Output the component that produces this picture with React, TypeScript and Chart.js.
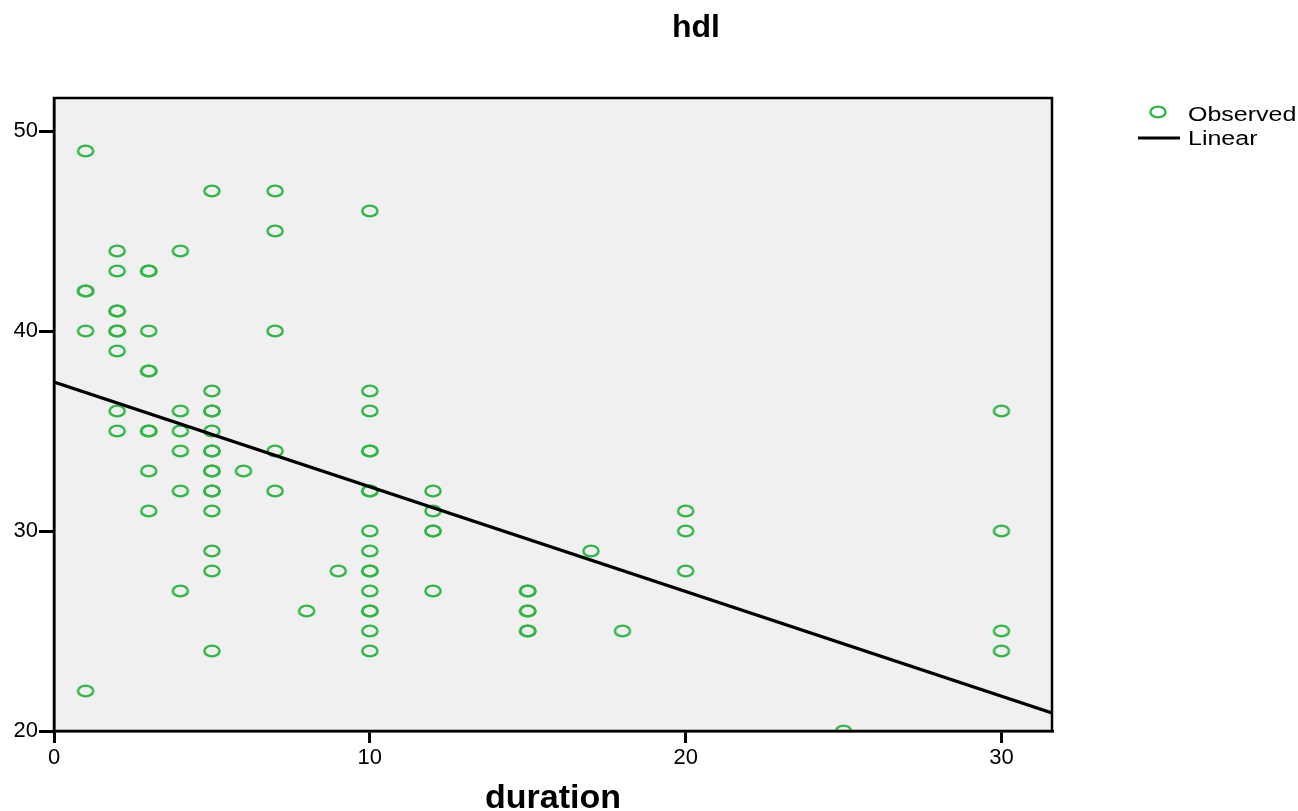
import React, { useEffect, useRef } from "react";
import { Chart, registerables } from "chart.js";

Chart.register(...registerables);

// Observed points (duration, hdl)
const observedX = [
  1, 1, 1, 1, 1,
  2, 2, 2, 2, 2, 2, 2, 2, 2,
  3, 3, 3, 3, 3, 3, 3, 3, 3,
  4, 4, 4, 4, 4, 4,
  5, 5, 5, 5, 5, 5, 5, 5, 5, 5, 5, 5, 5, 5, 5,
  6,
  7, 7, 7, 7, 7,
  8,
  9,
  10, 10, 10, 10, 10, 10, 10, 10, 10, 10, 10, 10, 10, 10, 10, 10,
  12, 12, 12, 12, 12,
  15, 15, 15, 15, 15, 15,
  17,
  18,
  20, 20, 20,
  25,
  30, 30, 30, 30,
];
const observedY = [
  49, 42, 42, 40, 22,
  44, 43, 41, 41, 40, 40, 39, 36, 35,
  43, 43, 40, 38, 38, 35, 35, 33, 31,
  44, 36, 35, 34, 32, 27,
  47, 37, 36, 36, 35, 34, 34, 33, 33, 32, 32, 31, 29, 28, 24,
  33,
  47, 45, 40, 34, 32,
  26,
  28,
  46, 37, 36, 34, 34, 32, 32, 30, 29, 28, 28, 27, 26, 26, 25, 24,
  32, 31, 30, 30, 27,
  27, 27, 26, 26, 25, 25,
  29,
  25,
  31, 30, 28,
  20,
  36, 30, 25, 24,
];

// Linear fit endpoints
const fitX = [0, 31.6];
const fitY = [37.45, 20.9];

const xMin = 0;
const xMax = 31.6;
const yMin = 20;
const yMax = 51.65;
const tickStep = 10;

const chartTitle = "hdl";
const xTitle = "duration";
const legendLabels = ["Observed", "Linear"];

const GREEN = "#2fb543";
const FONT = "'Liberation Sans', Arial, sans-serif";

function makeMarker(): HTMLCanvasElement {
  const c = document.createElement("canvas");
  c.width = 22;
  c.height = 18;
  const ctx = c.getContext("2d")!;
  ctx.strokeStyle = GREEN;
  ctx.lineWidth = 2.4;
  ctx.beginPath();
  ctx.ellipse(11, 9, 7.6, 5.4, 0, 0, Math.PI * 2);
  ctx.stroke();
  return c;
}

export default function App() {
  const ref = useRef<HTMLCanvasElement | null>(null);

  useEffect(() => {
    if (!ref.current) return;
    const marker = makeMarker();

    const decorPlugin = {
      id: "decor",
      beforeDraw(chart: any) {
        const { ctx, chartArea } = chart;
        ctx.save();
        ctx.fillStyle = "#ffffff";
        ctx.fillRect(0, 0, chart.width, chart.height);
        ctx.fillStyle = "#f0f0f0";
        ctx.fillRect(
          chartArea.left,
          chartArea.top,
          chartArea.right - chartArea.left,
          chartArea.bottom - chartArea.top
        );
        ctx.restore();
      },
      afterDraw(chart: any) {
        const { ctx, chartArea } = chart;
        ctx.save();
        ctx.strokeStyle = "#000";
        ctx.lineWidth = 2.5;
        ctx.strokeRect(
          chartArea.left,
          chartArea.top,
          chartArea.right - chartArea.left,
          chartArea.bottom - chartArea.top
        );
        // title
        ctx.fillStyle = "#000";
        ctx.font = "bold 32px " + FONT;
        ctx.textAlign = "center";
        ctx.textBaseline = "alphabetic";
        ctx.fillText(chartTitle, 696, 37);
        // legend
        ctx.drawImage(marker, 1158 - marker.width / 2, 112 - marker.height / 2);
        ctx.strokeStyle = "#000";
        ctx.lineWidth = 3;
        ctx.beginPath();
        ctx.moveTo(1138, 138);
        ctx.lineTo(1180, 138);
        ctx.stroke();
        ctx.font = "20px " + FONT;
        ctx.textAlign = "left";
        ctx.textBaseline = "alphabetic";
        ctx.save();
        ctx.translate(1188, 121);
        ctx.scale(1.25, 1);
        ctx.fillText(legendLabels[0], 0, 0);
        ctx.restore();
        ctx.save();
        ctx.translate(1188, 145);
        ctx.scale(1.25, 1);
        ctx.fillText(legendLabels[1], 0, 0);
        ctx.restore();
        ctx.restore();
      },
    };

    const chart = new Chart(ref.current, {
      type: "scatter",
      data: {
        datasets: [
          {
            type: "line",
            label: legendLabels[1],
            data: fitX.map((x, i) => ({ x, y: fitY[i] })),
            borderColor: "#000",
            borderWidth: 3.2,
            pointRadius: 0,
            fill: false,
            clip: 0,
            order: 0,
          } as any,
          {
            label: legendLabels[0],
            data: observedX.map((x, i) => ({ x, y: observedY[i] })),
            pointStyle: marker,
            pointRadius: 8,
            clip: 0,
            order: 1,
          } as any,
        ],
      },
      plugins: [decorPlugin],
      options: {
        animation: false,
        responsive: false,
        layout: { padding: { left: 0, top: 98, right: 246, bottom: 0 } },
        plugins: {
          legend: { display: false },
          tooltip: { enabled: false },
          title: { display: false },
        },
        scales: {
          x: {
            type: "linear",
            min: xMin,
            max: xMax,
            afterFit(scale: any) {
              scale.height = 80;
            },
            ticks: {
              stepSize: tickStep,
              includeBounds: false,
              color: "#000",
              padding: 2,
              font: { family: FONT, size: 22 },
              maxRotation: 0,
            },
            grid: {
              drawOnChartArea: false,
              drawTicks: true,
              tickLength: 12,
              lineWidth: 3,
              tickWidth: 3,
              tickColor: "#000",
              color: "#000",
            },
            border: { display: true, color: "#000", width: 2.5 },
            title: {
              display: true,
              text: xTitle,
              color: "#000",
              font: { family: FONT, size: 34, weight: "bold" },
              padding: { top: 0, bottom: -8 },
            },
          },
          y: {
            type: "linear",
            min: yMin,
            max: yMax,
            afterFit(scale: any) {
              scale.width = 54;
            },
            ticks: {
              stepSize: tickStep,
              includeBounds: false,
              color: "#000",
              padding: 1,
              font: { family: FONT, size: 22 },
            },
            grid: {
              drawOnChartArea: false,
              drawTicks: true,
              tickLength: 15,
              lineWidth: 3,
              tickWidth: 3,
              tickColor: "#000",
              color: "#000",
            },
            border: { display: true, color: "#000", width: 2.5 },
          },
        },
      } as any,
    });

    return () => chart.destroy();
  }, []);

  return (
    <div style={{ position: "fixed", left: 0, top: 0, width: 1298, height: 811, background: "#fff" }}>
      <canvas ref={ref} width={1298} height={811} style={{ display: "block" }} />
    </div>
  );
}
